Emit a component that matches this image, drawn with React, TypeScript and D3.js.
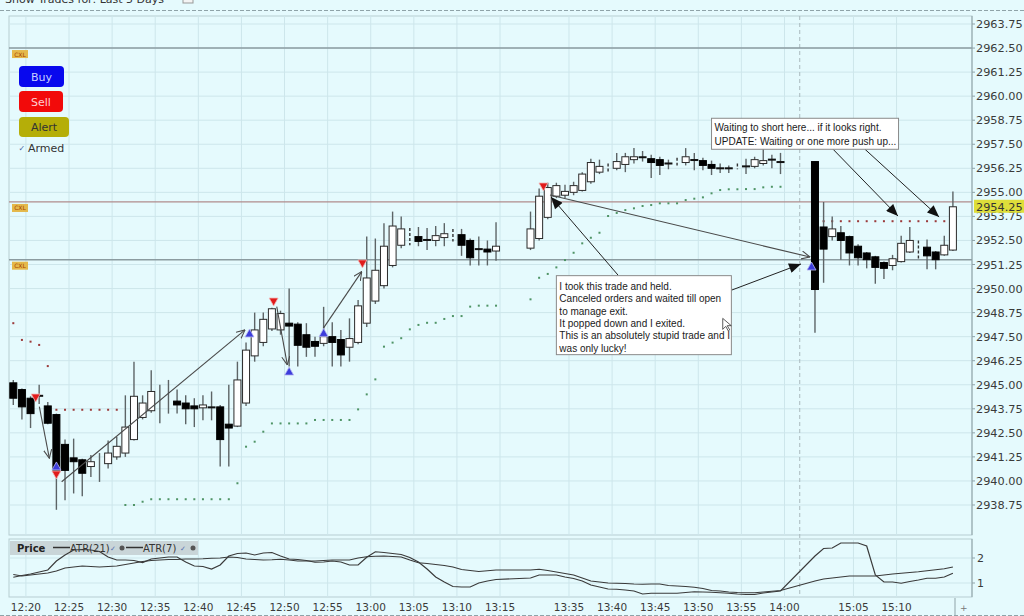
import React from 'react';
import * as d3 from 'd3';

// one-minute bars: [slot, open, high, low, close]
const bars: [number, number, number, number, number][] = [
  [0, 2945.1, 2945.25, 2943.95, 2944.3],
  [1, 2944.75, 2944.8, 2943.2, 2943.85],
  [2, 2944.3, 2944.4, 2942.75, 2943.5],
  [3, 2944.45, 2945.0, 2944.0, 2944.4],
  [4, 2943.9, 2944.1, 2942.95, 2943.0],
  [5, 2943.45, 2943.5, 2938.5, 2940.5],
  [6, 2941.9, 2942.15, 2939.0, 2940.55],
  [7, 2941.2, 2942.2, 2939.35, 2941.0],
  [8, 2941.1, 2941.15, 2939.2, 2940.4],
  [9, 2940.75, 2941.35, 2940.2, 2941.0],
  [11, 2940.9, 2942.1, 2940.65, 2941.45],
  [12, 2941.25, 2942.3, 2941.1, 2941.8],
  [13, 2941.45, 2944.45, 2941.25, 2942.8],
  [14, 2942.15, 2946.2, 2942.1, 2944.4],
  [15, 2943.3, 2944.45, 2943.2, 2944.05],
  [16, 2943.65, 2945.75, 2943.55, 2944.65],
  [19, 2944.15, 2944.75, 2943.5, 2943.95],
  [20, 2944.05, 2944.45, 2942.95, 2943.75],
  [21, 2943.9, 2944.3, 2942.8, 2943.75],
  [22, 2943.8, 2944.45, 2943.15, 2943.95],
  [23, 2943.85, 2944.65, 2943.15, 2943.8],
  [24, 2943.85, 2943.95, 2940.75, 2942.15],
  [25, 2942.95, 2945.0, 2940.75, 2942.75],
  [26, 2942.85, 2946.2, 2942.8, 2945.25],
  [27, 2944.05, 2947.2, 2943.9, 2946.8],
  [28, 2946.5, 2948.75, 2946.2, 2947.85],
  [29, 2947.2, 2948.75, 2947.0, 2948.4],
  [30, 2947.9, 2949.0, 2947.8, 2948.95],
  [31, 2947.85, 2948.85, 2947.6, 2948.7],
  [32, 2948.2, 2950.0, 2945.95, 2948.05],
  [33, 2948.15, 2948.25, 2945.95, 2947.05],
  [34, 2947.6, 2948.2, 2946.45, 2946.95],
  [35, 2947.25, 2947.5, 2946.45, 2947.0],
  [36, 2947.15, 2949.05, 2947.0, 2947.5],
  [37, 2947.5, 2948.25, 2945.95, 2947.2],
  [38, 2947.35, 2947.85, 2945.95, 2946.55],
  [39, 2946.95, 2948.45, 2946.2, 2947.4],
  [40, 2947.2, 2949.4, 2947.1, 2949.1],
  [41, 2948.2, 2952.7, 2948.0, 2950.55],
  [42, 2949.35, 2952.6, 2949.2, 2950.95],
  [43, 2950.15, 2953.4, 2950.0, 2952.2],
  [44, 2951.2, 2954.0, 2951.1, 2953.25],
  [45, 2952.25, 2953.75, 2952.1, 2953.1],
  [47, 2952.7, 2953.2, 2952.2, 2952.45],
  [48, 2952.55, 2953.15, 2952.0, 2952.5],
  [49, 2952.5, 2953.25, 2952.2, 2952.75],
  [50, 2952.65, 2953.4, 2952.2, 2952.85],
  [52, 2952.8, 2953.1, 2951.7, 2952.25],
  [53, 2952.5, 2952.6, 2951.2, 2951.6],
  [54, 2952.1, 2952.7, 2951.2, 2952.0],
  [55, 2952.05, 2952.5, 2951.2, 2951.9],
  [56, 2951.95, 2953.45, 2951.45, 2952.2],
  [60, 2952.1, 2954.0, 2952.0, 2953.1],
  [61, 2952.6, 2955.2, 2952.5, 2954.8],
  [62, 2953.7, 2955.5, 2953.6, 2955.25],
  [63, 2954.8, 2955.5, 2954.7, 2955.35],
  [64, 2954.85, 2955.4, 2954.7, 2955.05],
  [65, 2955.0, 2955.55, 2954.85, 2955.35],
  [66, 2955.1, 2956.05, 2955.05, 2955.95],
  [67, 2955.55, 2956.75, 2955.45, 2956.55],
  [68, 2956.05, 2956.7, 2955.95, 2956.35],
  [70, 2956.25, 2957.05, 2956.15, 2956.6],
  [71, 2956.45, 2957.05, 2956.05, 2956.85],
  [72, 2956.7, 2957.3, 2956.5, 2956.85],
  [73, 2956.8, 2957.15, 2956.6, 2956.85],
  [74, 2956.75, 2956.95, 2955.75, 2956.55],
  [75, 2956.7, 2956.85, 2955.9, 2956.4],
  [76, 2956.5, 2956.7, 2956.2, 2956.5],
  [78, 2956.55, 2957.3, 2956.4, 2956.85],
  [79, 2956.68, 2957.05, 2956.15, 2956.68],
  [80, 2956.65, 2956.8, 2956.15, 2956.4],
  [81, 2956.45, 2956.65, 2955.9, 2956.25],
  [82, 2956.25, 2956.5, 2956.0, 2956.25],
  [83, 2956.25, 2956.4, 2956.0, 2956.25],
  [85, 2956.35, 2956.75, 2955.95, 2956.35],
  [86, 2956.35, 2956.85, 2956.25, 2956.7],
  [87, 2956.5, 2957.25, 2956.4, 2956.65],
  [88, 2956.65, 2956.95, 2956.25, 2956.75],
  [89, 2956.6, 2957.05, 2955.95, 2956.55],
  [93, 2956.6, 2956.6, 2947.7, 2949.95],
  [94, 2953.2, 2954.5, 2950.3, 2952.05],
  [95, 2952.7, 2953.75, 2952.5, 2953.1],
  [96, 2952.9, 2953.25, 2951.5, 2952.5],
  [97, 2952.7, 2952.75, 2951.2, 2951.85],
  [98, 2952.2, 2952.3, 2951.2, 2951.6],
  [99, 2951.85, 2951.9, 2951.05, 2951.5],
  [100, 2951.65, 2951.7, 2950.25, 2951.1],
  [101, 2951.35, 2951.4, 2950.5, 2951.05],
  [102, 2951.2, 2951.75, 2950.95, 2951.55],
  [103, 2951.4, 2952.75, 2951.35, 2952.35],
  [104, 2951.9, 2953.2, 2951.85, 2952.5],
  [106, 2952.15, 2952.55, 2951.0, 2951.7],
  [107, 2951.9, 2951.95, 2951.0, 2951.5],
  [108, 2951.75, 2952.75, 2951.7, 2952.25],
  [109, 2952.0, 2955.05, 2951.95, 2954.25],
];

// bars with no visible body: [slot, high, low]
const wickOnlyBars: [number, number, number][] = [
  [10, 2941.45, 2939.95],
  [17, 2945.0, 2943.0],
  [18, 2945.25, 2943.5],
];
const brokenBars: [number, number, number][] = [
  [46, 2953.15, 2952.25],
  [51, 2953.1, 2952.45],
  [69, 2956.5, 2956.0],
  [77, 2956.8, 2956.4],
  [84, 2956.5, 2956.2],
  [105, 2952.5, 2951.5],
];

// trailing stops [slot, price]
const longStops: [number, number][] = [
  [13, 2938.75], [14, 2938.75], [15, 2938.92], [16, 2939.05], [17, 2939.05], [18, 2939.05],
  [19, 2939.05], [20, 2939.05], [21, 2939.05], [22, 2939.05], [23, 2939.05], [24, 2939.05],
  [25, 2939.05], [26, 2939.88], [27, 2941.78], [28, 2942.04], [29, 2942.56], [30, 2942.99],
  [31, 2942.99], [32, 2942.99], [33, 2942.99], [34, 2942.99], [35, 2943.17], [36, 2943.17],
  [37, 2943.17], [38, 2943.17], [39, 2943.17], [40, 2943.72], [41, 2944.5], [42, 2945.28],
  [43, 2946.98], [44, 2947.19], [45, 2947.42], [46, 2947.88], [47, 2948.11], [48, 2948.22],
  [49, 2948.22], [50, 2948.42], [51, 2948.57], [52, 2948.57], [53, 2949.06], [54, 2949.11],
  [55, 2949.11], [56, 2949.11],
  [60, 2949.44], [61, 2950.56], [62, 2950.76], [63, 2951.1], [64, 2951.48], [65, 2951.86],
  [66, 2952.35], [67, 2952.64], [68, 2952.9], [69, 2953.77], [70, 2953.93], [71, 2954.08],
  [72, 2954.17], [73, 2954.29], [74, 2954.34], [75, 2954.43], [76, 2954.43], [77, 2954.43],
  [78, 2954.6], [79, 2954.67], [80, 2954.74], [81, 2954.95], [82, 2955.12], [83, 2955.16],
  [84, 2955.16], [85, 2955.17], [86, 2955.17], [87, 2955.26], [88, 2955.29], [89, 2955.29],
];
const shortStops: [number, number][] = [
  [0, 2948.2], [1, 2947.33], [2, 2947.24], [3, 2947.07], [4, 2945.97],
  [5, 2943.7], [6, 2943.7], [7, 2943.7], [8, 2943.7], [9, 2943.7], [10, 2943.7], [11, 2943.7], [12, 2943.7],
  [94, 2953.5], [95, 2953.5], [96, 2953.5], [97, 2953.5], [98, 2953.5], [99, 2953.5], [100, 2953.5],
  [101, 2953.5], [102, 2953.5], [103, 2953.5], [104, 2953.5], [105, 2953.5], [106, 2953.5],
  [107, 2953.5], [108, 2953.5],
];

// signals [slot, price]
const buySignals: [number, number][] = [[5, 2940.78], [27.4, 2947.69], [32, 2945.71], [36, 2947.72], [92.6, 2951.17]];
const sellSignals: [number, number][] = [[2.6, 2944.31], [5, 2940.31], [30.2, 2949.3], [40.5, 2951.28], [61.5, 2955.28]];

// trade links [slot1, price1, slot2, price2]
const tradeLinks: [number, number, number, number][] = [
  [3.02, 2943.86, 4.18, 2941.18],
  [5.61, 2939.96, 26.88, 2947.85],
  [30.56, 2949.06, 31.79, 2946.03],
  [35.96, 2947.93, 40.42, 2950.88],
  [62.26, 2954.86, 92.42, 2951.64],
];
const noteArrows: [number, number, number, number][] = [
  [70.15, 2950.7, 62.38, 2954.76],
  [83.34, 2949.92, 91.38, 2951.28],
  [95.1, 2957.24, 102.63, 2953.77],
  [98.8, 2957.24, 107.4, 2953.72],
];

const noteOne = [
  'I took this trade and held.',
  'Canceled orders and waited till open',
  'to manage exit.',
  'It popped down and I exited.',
  'This is an absolutely stupid trade and I',
  'was only lucky!',
];
const noteTwo = ['Waiting to short here... if it looks right.', 'UPDATE: Waiting or one more push up...'];
const noteAnchors: [number, number][] = [[63.0, 2950.67], [81.0, 2958.85]];

const levels = [2962.5, 2954.5, 2951.5];
const lastPrice = 2954.25;

const priceTicks = [
  2963.75, 2962.5, 2961.25, 2960.0, 2958.75, 2957.5, 2956.25, 2955.0, 2953.75, 2952.5, 2951.25,
  2950.0, 2948.75, 2947.5, 2946.25, 2945.0, 2943.75, 2942.5, 2941.25, 2940.0, 2938.75,
];
const timeLabels: [number, string][] = [
  [1, '12:20'], [6, '12:25'], [11, '12:30'], [16, '12:35'], [21, '12:40'], [26, '12:45'],
  [31, '12:50'], [36, '12:55'], [41, '13:00'], [46, '13:05'], [51, '13:10'], [56, '13:15'],
  [64, '13:35'], [69, '13:40'], [74, '13:45'], [79, '13:50'], [84, '13:55'], [89, '14:00'],
  [97, '15:05'], [102, '15:10'],
];
const sessionBreak: [number, number] = [89, 93];

// ATR study, one value per bar slot
const atrSlots = [...d3.range(0, 57), ...d3.range(60, 90), ...d3.range(93, 110)];
const atr7 = [
  1.23, 1.30, 1.36, 1.44, 1.52, 1.88, 2.12, 2.32, 2.34, 2.32,
  2.26, 2.04, 1.92, 1.92, 1.90, 1.82, 1.96, 2.00, 2.04, 2.04,
  1.84, 1.68, 1.66, 1.56, 1.72, 2.08, 2.18, 2.20, 2.12, 2.20,
  2.22, 2.08, 1.96, 1.94, 1.90, 1.83, 1.84, 1.88, 1.84, 1.72,
  1.72, 2.03, 2.25, 2.22, 2.18, 2.14, 2.02, 1.84, 1.56, 1.24,
  1.04, 0.86, 0.84, 0.84, 1.00, 1.08, 1.14,
  1.20, 1.32, 1.32, 1.32, 1.24, 1.18, 1.08, 0.92, 0.84, 0.76,
  0.75, 0.72, 0.68, 0.56, 0.59, 0.59, 0.59, 0.59, 0.62, 0.65,
  0.64, 0.63, 0.61, 0.59, 0.56, 0.54, 0.54, 0.60, 0.64, 0.68,
  2.08, 2.38, 2.40, 2.60, 2.60, 2.60, 2.48, 1.32, 1.04, 1.04, 0.99, 1.06, 1.12, 1.19, 1.19, 1.24, 1.39,
];
const atr21 = [
  1.34, 1.28, 1.32, 1.36, 1.40, 1.48, 1.60, 1.64, 1.68, 1.66,
  1.64, 1.66, 1.68, 1.74, 1.80, 1.86, 1.90, 1.92, 1.94, 1.94,
  1.96, 1.96, 1.97, 1.99, 2.00, 2.04, 2.02, 1.96, 1.94, 1.92,
  1.93, 1.95, 1.92, 1.88, 1.88, 1.88, 1.90, 1.92, 1.92, 1.92,
  2.00, 2.05, 2.07, 2.08, 2.06, 2.04, 1.92, 1.81, 1.78, 1.74,
  1.70, 1.64, 1.54, 1.50, 1.46, 1.49, 1.52,
  1.52, 1.55, 1.50, 1.44, 1.38, 1.32, 1.20, 1.08, 1.04, 1.00,
  0.99, 0.98, 0.96, 0.95, 0.96, 0.96, 0.90, 0.88, 0.86, 0.83,
  0.78, 0.70, 0.68, 0.64, 0.62, 0.61, 0.61, 0.64, 0.67, 0.70,
  1.08, 1.16, 1.20, 1.24, 1.28, 1.28, 1.28, 1.28, 1.32, 1.36, 1.39, 1.42, 1.45, 1.49, 1.53, 1.57, 1.64,
];
const atrTicks = [2, 1];

const W = 1024;
const H = 616;
const PANE = { left: 9, right: 972, top: 16, bottom: 535 };
const LOWER = { top: 539, bottom: 597 };
const BG = '#e5fafd';
const FONT = 'DejaVu Sans, Verdana, sans-serif';
const NOTE_FONT = 'Liberation Sans, Arial, sans-serif';

const App: React.FC = () => {
  const x = d3.scaleLinear().domain([0, 109]).range([13.3, 952.9]);
  const y = d3.scaleLinear().domain([2938.75, 2963.75]).range([505, 24]);
  const ya = d3.scaleLinear().domain([1, 2]).range([583, 558]);

  const atrLine = d3.line<number>()
    .x((_, i) => x(atrSlots[i]))
    .y((v) => ya(v));

  const bodyW = 7;
  const breakX = (x(sessionBreak[0]) + x(sessionBreak[1])) / 2 + 2;
  const levelColor = ['#8b9ba0', '#b08c8c', '#8b9ba0'];
  const noteSizes: [number, number][] = [[175, 79], [187, 31]];

  const tri = (cx: number, cy: number, up: boolean) => {
    const h = 8;
    const w = 9;
    return up
      ? `M${cx},${cy - h / 2} L${cx + w / 2},${cy + h / 2} L${cx - w / 2},${cy + h / 2} Z`
      : `M${cx},${cy + h / 2} L${cx + w / 2},${cy - h / 2} L${cx - w / 2},${cy - h / 2} Z`;
  };

  return (
    <svg width={W} height={H} style={{ position: 'absolute', left: 0, top: 0, background: BG }}
      fontFamily={FONT}>
      <defs>
        <marker id="openHead" viewBox="0 0 10 10" refX="9.5" refY="5" markerWidth="9" markerHeight="9"
          markerUnits="userSpaceOnUse" orient="auto">
          <path d="M0,0.5 L9.5,5 L0,9.5" fill="none" stroke="#4a4a4a" strokeWidth={1.2} />
        </marker>
        <marker id="solidHead" viewBox="0 0 12 10" refX="12" refY="5" markerWidth="13" markerHeight="10"
          markerUnits="userSpaceOnUse" orient="auto">
          <path d="M0,0 L12,5 L0,10 Z" fill="#111" />
        </marker>
        <clipPath id="paneClip">
          <rect x={PANE.left} y={PANE.top} width={PANE.right - PANE.left} height={PANE.bottom - PANE.top} />
        </clipPath>
      </defs>

      <rect width={W} height={H} fill={BG} />

      {/* top strip */}
      <text x={5} y={3} fontSize={11} fill="#333">Show Trades for:  Last 5 Days</text>
      <rect x={183} y={-6} width={10} height={9} fill="#f4f4f4" stroke="#999" />
      <line x1={0} x2={W} y1={10.5} y2={10.5} stroke="#8fa3a8" strokeDasharray="4,2" />

      {/* pane frames */}
      <rect x={PANE.left} y={PANE.top} width={PANE.right - PANE.left} height={PANE.bottom - PANE.top}
        fill="none" stroke="#b7cdd2" />
      <rect x={PANE.left} y={LOWER.top} width={PANE.right - PANE.left} height={LOWER.bottom - LOWER.top}
        fill="none" stroke="#b7cdd2" />

      {/* grid */}
      <g stroke="#cde6eb" strokeWidth={1}>
        {priceTicks.map((p) => (
          <line key={p} x1={PANE.left} x2={PANE.right} y1={y(p)} y2={y(p)} />
        ))}
        {timeLabels.map(([s, t]) => (
          <g key={t}>
            <line x1={x(s) + 4} x2={x(s) + 4} y1={PANE.top} y2={PANE.bottom} />
            <line x1={x(s) + 4} x2={x(s) + 4} y1={LOWER.top} y2={LOWER.bottom} />
          </g>
        ))}
        {atrTicks.map((v) => (
          <line key={v} x1={PANE.left} x2={PANE.right} y1={ya(v)} y2={ya(v)} />
        ))}
      </g>

      <line x1={breakX} x2={breakX} y1={PANE.top} y2={LOWER.bottom} stroke="#a9b9bd" strokeDasharray="4,3" />

      {/* level lines */}
      {levels.map((p, i) => (
        <g key={p}>
          <line x1={PANE.left} x2={PANE.right} y1={y(p)} y2={y(p)} stroke={levelColor[i]}
            strokeWidth={i === 1 ? 1.2 : 1.6} />
          <rect x={12} y={y(p) + 2} width={16} height={8} fill="#e4b84a" />
          <text x={20} y={y(p) + 8.5} fontSize={6} textAnchor="middle" fill="#a84400">CXL</text>
        </g>
      ))}

      {/* order buttons */}
      <rect x={19} y={66} width={45} height={21} rx={4} fill="#0808ee" />
      <text x={41.5} y={80.5} fontSize={11} textAnchor="middle" fill="#c8d0ff">Buy</text>
      <rect x={19} y={91} width={44} height={21} rx={4} fill="#f20a0a" />
      <text x={41} y={105.5} fontSize={11} textAnchor="middle" fill="#ffd0d0">Sell</text>
      <rect x={19} y={117} width={50} height={20} rx={4} fill="#b5ae08" />
      <text x={44} y={131} fontSize={11} textAnchor="middle" fill="#333">Alert</text>
      <text x={18.5} y={151} fontSize={8} fill="#4a5fa0">✓</text>
      <text x={28} y={152} fontSize={11} fill="#333">Armed</text>

      <g clipPath="url(#paneClip)">
        {/* trailing stops */}
        {longStops.map(([s, p]) => (
          <rect key={`l${s}`} x={x(s) - 1} y={y(p) - 1} width={2} height={2} fill="#4f9466" />
        ))}
        {shortStops.map(([s, p]) => (
          <rect key={`s${s}`} x={x(s) - 1} y={y(p) - 1} width={2} height={2} fill="#9b3a3a" />
        ))}

        {/* bars without bodies */}
        {wickOnlyBars.map(([s, h, l]) => (
          <line key={`w${s}`} x1={x(s)} x2={x(s)} y1={y(h)} y2={y(l)} stroke="#5d6466" strokeWidth={1.4} />
        ))}
        {brokenBars.map(([s, h, l]) => (
          <line key={`b${s}`} x1={x(s)} x2={x(s)} y1={y(h)} y2={y(l)} stroke="#333" strokeWidth={1.4}
            strokeDasharray="3,2" />
        ))}

        {/* candles */}
        {bars.map(([s, o, h, l, c]) => {
          const up = c >= o;
          const top = y(Math.max(o, c));
          const bot = y(Math.min(o, c));
          const cx = x(s);
          const flat = bot - top < 2;
          return (
            <g key={s}>
              <line x1={cx} x2={cx} y1={y(h)} y2={y(l)} stroke="#5d6466" strokeWidth={1.4} />
              {flat ? (
                <rect x={cx - bodyW / 2 - 0.5} y={(top + bot) / 2 - 1} width={bodyW + 1} height={2} fill="#111" />
              ) : (
                <rect x={cx - bodyW / 2} y={top} width={bodyW} height={bot - top}
                  fill={up ? '#fff' : '#000'} stroke={up ? '#2a2a2a' : '#000'} strokeWidth={1} />
              )}
            </g>
          );
        })}

        {/* trade links */}
        {tradeLinks.map(([s1, p1, s2, p2], i) => (
          <line key={`t${i}`} x1={x(s1)} y1={y(p1)} x2={x(s2)} y2={y(p2)} stroke="#4a4a4a" strokeWidth={1.1}
            markerEnd="url(#openHead)" />
        ))}

        {/* signals */}
        {buySignals.map(([s, p]) => (
          <path key={`bu${s}`} d={tri(x(s), y(p), true)} fill="#3d3ddb" stroke="#b9b9f2" strokeWidth={0.8} />
        ))}
        {sellSignals.map(([s, p]) => (
          <path key={`se${s}`} d={tri(x(s), y(p), false)} fill="#e01c1c" stroke="#f3b9b9" strokeWidth={0.8} />
        ))}

        {/* notes */}
        {noteArrows.map(([s1, p1, s2, p2], i) => (
          <line key={`n${i}`} x1={x(s1)} y1={y(p1)} x2={x(s2)} y2={y(p2)} stroke="#222" strokeWidth={1}
            markerEnd="url(#solidHead)" />
        ))}
        {[noteOne, noteTwo].map((lines, i) => {
          const [s, p] = noteAnchors[i];
          const [bw, bh] = noteSizes[i];
          const bx = x(s);
          const by = y(p);
          const step = i === 0 ? 12.3 : 14;
          const first = i === 0 ? 14.5 : 12.5;
          return (
            <g key={`note${i}`}>
              <rect x={bx} y={by} width={bw} height={bh} fill="#fff" stroke="#8a8a8a" />
              {lines.map((t, j) => (
                <text key={j} x={bx + 3} y={by + first + j * step} fontSize={10} fontFamily={NOTE_FONT}
                  fill="#1a1a1a">{t}</text>
              ))}
            </g>
          );
        })}
        {/* mouse pointer */}
        <path d={`M${x(82.3)},${y(2948.45)} l0,11 l3,-3 l2.5,4.5 l1.5,-1 l-2.5,-4.2 l4,0 Z`}
          fill="#fff" stroke="#333" strokeWidth={0.8} />
      </g>

      {/* price axis */}
      <line x1={PANE.right} x2={PANE.right} y1={PANE.top} y2={PANE.bottom} stroke="#8fa3a8" />
      {priceTicks.map((p) => (
        <g key={`pt${p}`}>
          <line x1={PANE.right} x2={PANE.right + 3} y1={y(p)} y2={y(p)} stroke="#8fa3a8" />
          <text x={PANE.right + 4} y={y(p) + 4} fontSize={11.3} fill="#3a3a3a">{d3.format('.2f')(p)}</text>
        </g>
      ))}
      <rect x={PANE.right + 2} y={y(lastPrice) - 7} width={50} height={13} fill="#dede3a" />
      <text x={PANE.right + 4} y={y(lastPrice) + 4} fontSize={11.3} fill="#333">{d3.format('.2f')(lastPrice)}</text>

      {/* ATR pane */}
      <rect x={10} y={541} width={188} height={14} fill="#c9d5d8" />
      <text x={17} y={552} fontSize={10} fontWeight="bold" fill="#222">Price</text>
      <line x1={53} x2={70} y1={547.5} y2={547.5} stroke="#333" strokeWidth={1.5} />
      <text x={70} y={552} fontSize={10} fill="#333">ATR(21)</text>
      <text x={110} y={551} fontSize={7} fill="#5570b0">✓</text>
      <circle cx={122} cy={548} r={2.5} fill="#555" />
      <line x1={126} x2={143} y1={547.5} y2={547.5} stroke="#333" strokeWidth={1.5} />
      <text x={143} y={552} fontSize={10} fill="#333">ATR(7)</text>
      <text x={180} y={551} fontSize={7} fill="#5570b0">✓</text>
      <circle cx={193} cy={548} r={2.5} fill="#555" />

      <path d={atrLine(atr21) ?? ''} fill="none" stroke="#3a3a3a" strokeWidth={1.2} />
      <path d={atrLine(atr7) ?? ''} fill="none" stroke="#3a3a3a" strokeWidth={1.2} />

      <line x1={PANE.right} x2={PANE.right} y1={LOWER.top} y2={LOWER.bottom} stroke="#8fa3a8" />
      {atrTicks.map((v) => (
        <g key={`at${v}`}>
          <line x1={PANE.right} x2={PANE.right + 3} y1={ya(v)} y2={ya(v)} stroke="#8fa3a8" />
          <text x={PANE.right + 5} y={ya(v) + 4} fontSize={11} fill="#3a3a3a">{v}</text>
        </g>
      ))}

      {/* time axis */}
      {timeLabels.map(([s, t]) => (
        <text key={`tl${t}`} x={x(s) + 4} y={611} fontSize={10.5} textAnchor="middle" fill="#3a3a3a">{t}</text>
      ))}
      <line x1={955} x2={955} y1={598} y2={616} stroke="#8fa3a8" />
      <text x={960} y={611} fontSize={9} fill="#777">+</text>
      <line x1={0} x2={W} y1={615.5} y2={615.5} stroke="#8fa3a8" strokeDasharray="4,2" />
    </svg>
  );
};

export default App;
